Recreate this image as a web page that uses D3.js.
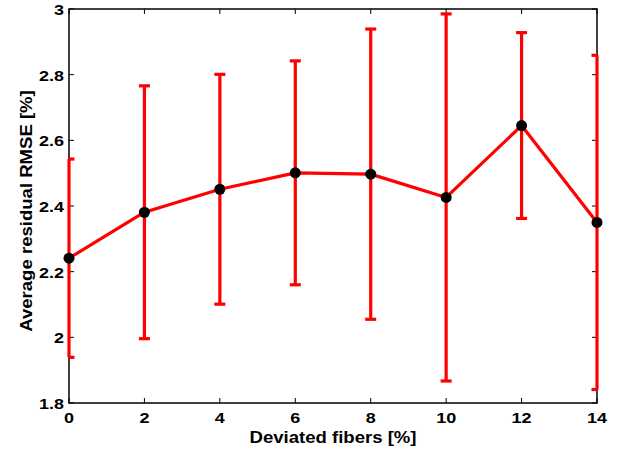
<!DOCTYPE html>
<html><head><meta charset="utf-8">
<script src="https://cdn.jsdelivr.net/npm/d3@7"></script>
<style>html,body{margin:0;padding:0;background:#fff;}svg{display:block;}</style>
</head><body>
<script>
const xValues = [0, 2, 4, 6, 8, 10, 12, 14];
const meanRMSE = [2.241, 2.381, 2.451, 2.501, 2.497, 2.426, 2.645, 2.350];
const stdRMSE = [0.302, 0.385, 0.350, 0.341, 0.442, 0.559, 0.283, 0.509];
const xTicks = [0, 2, 4, 6, 8, 10, 12, 14];
const yTicks = [1.8, 2, 2.2, 2.4, 2.6, 2.8, 3];
const xLabel = "Deviated fibers [%]";
const yLabel = "Average residual RMSE [%]";

const W = 628, H = 450;
const L = 69, R = 597, T = 9, B = 403;
const svg = d3.select("body").append("svg").attr("width", W).attr("height", H);
const x = d3.scaleLinear().domain([0, 14]).range([L, R]);
const y = d3.scaleLinear().domain([1.8, 3]).range([B, T]);
const font = "'Liberation Sans', Arial, Helvetica, sans-serif";

function stretchedText(px, py, txt, fs, sx, anchor, rot) {
  const g = svg.append("g").attr("transform", `translate(${px},${py}) rotate(${rot||0}) scale(${sx},1)`);
  g.append("text").attr("x", 0).attr("y", 0).attr("text-anchor", anchor)
    .attr("font-family", font).attr("font-weight", "bold").attr("font-size", fs)
    .attr("fill", "#000").text(txt);
}

// axes box and ticks
const axisG = svg.append("g");
axisG.append("rect").attr("x", L).attr("y", T).attr("width", R - L).attr("height", B - T)
  .attr("fill", "none").attr("stroke", "#000").attr("stroke-width", 1.5);
const tl = 5;
xTicks.forEach(v => {
  axisG.append("line").attr("x1", x(v)).attr("x2", x(v)).attr("y1", B).attr("y2", B - tl).attr("stroke", "#000").attr("stroke-width", 1);
  axisG.append("line").attr("x1", x(v)).attr("x2", x(v)).attr("y1", T).attr("y2", T + tl).attr("stroke", "#000").attr("stroke-width", 1);
  stretchedText(x(v), 423, d3.format("d")(v), 15, 1.2, "middle");
});
yTicks.forEach(v => {
  axisG.append("line").attr("x1", L).attr("x2", L + tl).attr("y1", y(v)).attr("y2", y(v)).attr("stroke", "#000").attr("stroke-width", 1);
  axisG.append("line").attr("x1", R).attr("x2", R - tl).attr("y1", y(v)).attr("y2", y(v)).attr("stroke", "#000").attr("stroke-width", 1);
  stretchedText(64, y(v) + 6, String(v), 15, 1.2, "end");
});

// error bars
const red = "#ff0000";
const capHalf = 5.5;
const eb = svg.append("g").attr("stroke", red).attr("stroke-width", 3.2).attr("fill", "none");
xValues.forEach((xv, i) => {
  const lo = meanRMSE[i] - stdRMSE[i], hi = meanRMSE[i] + stdRMSE[i];
  eb.append("line").attr("x1", x(xv)).attr("x2", x(xv)).attr("y1", y(lo)).attr("y2", y(hi));
  const cx1 = Math.max(L, x(xv) - capHalf), cx2 = Math.min(R, x(xv) + capHalf);
  [lo, hi].forEach(v => {
    eb.append("line").attr("x1", cx1).attr("x2", cx2).attr("y1", y(v)).attr("y2", y(v));
  });
});

// mean line
const line = d3.line().x((d, i) => x(xValues[i])).y(d => y(d));
svg.append("path").datum(meanRMSE).attr("d", line).attr("fill", "none")
  .attr("stroke", red).attr("stroke-width", 3.2).attr("stroke-linejoin", "round");

// markers
svg.append("g").selectAll("circle").data(meanRMSE).join("circle")
  .attr("cx", (d, i) => x(xValues[i])).attr("cy", d => y(d)).attr("r", 5.5).attr("fill", "#000");

// labels
stretchedText(333, 443, xLabel, 16, 1.16, "middle");
stretchedText(32, 211, yLabel, 16, 1.16, "middle", -90);
</script>
</body></html>
